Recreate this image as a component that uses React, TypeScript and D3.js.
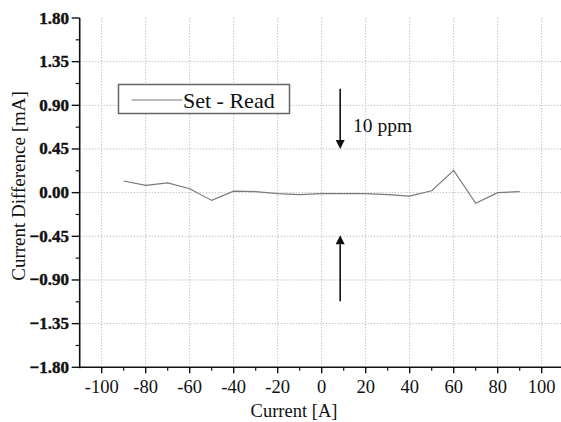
import React from "react";
import * as d3 from "d3";

const currents = [-90, -80, -70, -60, -50, -40, -30, -20, -10, 0, 10, 20, 30, 40, 50, 60, 70, 80, 90];
const differences = [0.12, 0.075, 0.1, 0.04, -0.08, 0.015, 0.01, -0.01, -0.02, -0.01, -0.01, -0.01, -0.02, -0.035, 0.02, 0.23, -0.11, 0.0, 0.01];
const xTicks = [-100, -80, -60, -40, -20, 0, 20, 40, 60, 80, 100];
const xMinor = [-90, -70, -50, -30, -10, 10, 30, 50, 70, 90];
const yTicks = [-1.8, -1.35, -0.9, -0.45, 0, 0.45, 0.9, 1.35, 1.8];
const yMinor = [-1.575, -1.125, -0.675, -0.225, 0.225, 0.675, 1.125, 1.575];
const seriesName = "Set - Read";
const annotationText = "10 ppm";
const arrowDown = { x: 8.4, from: 1.07, to: 0.45 };
const arrowUp = { x: 8.4, from: -1.12, to: -0.44 };

const W = 561;
const H = 422;

export default function App() {
  const x = d3.scaleLinear().domain([-110, 110]).range([79.7, 563.7]);
  const y = d3.scaleLinear().domain([-1.8, 1.8]).range([367.3, 18]);
  const line = d3
    .line<number>()
    .x((_, i) => x(currents[i]))
    .y((d) => y(d));
  const font = "Liberation Serif";
  const gridColor = "#c4c4c4";
  const x0 = x.range()[0];
  const yb = y.range()[0];

  const arrow = (xv: number, from: number, to: number, key: string) => {
    const ax = x(xv);
    const y1 = y(from);
    const y2 = y(to);
    const dir = y2 > y1 ? 1 : -1;
    const head = 9;
    return (
      <g key={key}>
        <line x1={ax} y1={y1} x2={ax} y2={y2 - dir * head} stroke="#111" strokeWidth={1.6} />
        <path
          d={`M${ax - 4.5},${y2 - dir * head} L${ax + 4.5},${y2 - dir * head} L${ax},${y2} Z`}
          fill="#111"
        />
      </g>
    );
  };

  return (
    <svg
      width={W}
      height={H}
      style={{ position: "absolute", left: 0, top: 0, background: "#fff", fontFamily: font }}
    >
      <rect width={W} height={H} fill="#fff" />
      {/* grid */}
      {xTicks.map((t) => (
        <line key={"gx" + t} x1={x(t)} x2={x(t)} y1={y(1.8)} y2={yb} stroke={gridColor} strokeWidth={1} strokeDasharray="1.5,1.5" />
      ))}
      {yTicks.filter((t) => t !== 1.8 && t !== -1.8).map((t) => (
        <line key={"gy" + t} x1={x0} x2={W} y1={y(t)} y2={y(t)} stroke={gridColor} strokeWidth={1} strokeDasharray="1.5,1.5" />
      ))}
      {/* data */}
      <path d={line(differences) || ""} fill="none" stroke="#7a7a7a" strokeWidth={1.2} />
      {/* axes */}
      <line x1={x0} x2={x0} y1={y(1.8)} y2={yb + 1} stroke="#111" strokeWidth={1.6} />
      <line x1={x0} x2={W} y1={yb} y2={yb} stroke="#111" strokeWidth={1.6} />
      {yTicks.map((t) => (
        <g key={"yt" + t}>
          <line x1={x0 - 8} x2={x0} y1={y(t)} y2={y(t)} stroke="#111" strokeWidth={1.4} />
          <text
            x={69}
            y={y(t) + 5.5}
            textAnchor="end"
            fontSize={17}
            fontFamily={font}
            fontWeight={700}
            fill="#111"
            stroke="#111"
            strokeWidth={0.4}
          >
            {d3.format(".2f")(t)}
          </text>
        </g>
      ))}
      {yMinor.map((t) => (
        <line key={"ym" + t} x1={x0 - 4} x2={x0} y1={y(t)} y2={y(t)} stroke="#111" strokeWidth={1.2} />
      ))}
      {xTicks.map((t) => (
        <g key={"xt" + t}>
          <line x1={x(t)} x2={x(t)} y1={yb} y2={yb + 6} stroke="#111" strokeWidth={1.4} />
          <text x={x(t)} y={393} textAnchor="middle" fontSize={18.5} fontFamily={font} fill="#111">
            {t}
          </text>
        </g>
      ))}
      {xMinor.map((t) => (
        <line key={"xm" + t} x1={x(t)} x2={x(t)} y1={yb} y2={yb + 3.5} stroke="#111" strokeWidth={1.2} />
      ))}
      {/* axis titles */}
      <text x={294} y={417} textAnchor="middle" fontSize={18.5} fontFamily={font} fill="#111">
        Current [A]
      </text>
      <text transform={`translate(25,186) rotate(-90)`} textAnchor="middle" fontSize={19} fontFamily={font} fill="#111">
        Current Difference [mA]
      </text>
      {/* legend */}
      <rect x={118.5} y={84.5} width={171} height={29} fill="#fff" stroke="#666" strokeWidth={1.5} />
      <line x1={131.5} x2={182.5} y1={100} y2={100} stroke="#7a7a7a" strokeWidth={1.2} />
      <text x={183} y={107.5} fontSize={22} fontFamily={font} fill="#111">
        {seriesName}
      </text>
      {/* annotations */}
      {arrow(arrowDown.x, arrowDown.from, arrowDown.to, "ad")}
      {arrow(arrowUp.x, arrowUp.from, arrowUp.to, "au")}
      <text x={353} y={131.5} fontSize={19.5} fontFamily={font} fill="#111">
        {annotationText}
      </text>
    </svg>
  );
}
